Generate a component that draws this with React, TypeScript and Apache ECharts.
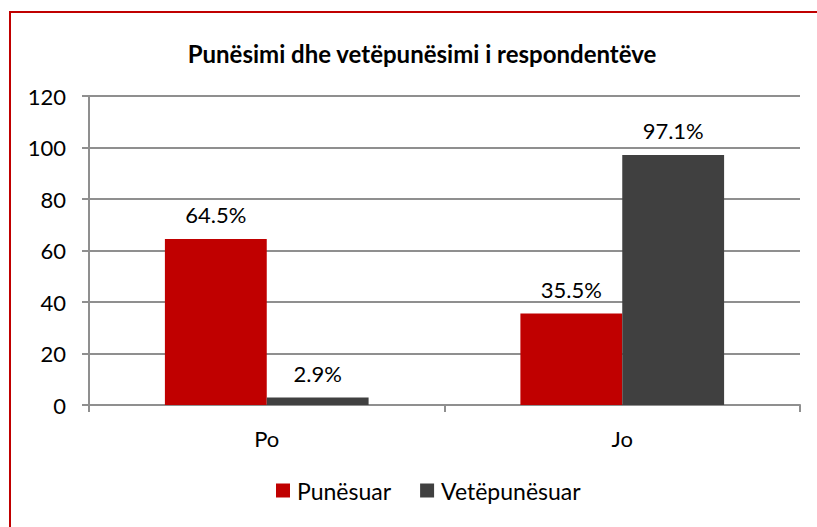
import React, { useEffect, useRef } from "react";
import * as echarts from "echarts";

const categories = ["Po", "Jo"];
const punesuar = [64.5, 35.5];
const vetepunesuar = [2.9, 97.1];
const seriesNames = ["Punësuar", "Vetëpunësuar"];
const title = "Punësimi dhe vetëpunësimi i respondentëve";

export default function App() {
  const ref = useRef<HTMLDivElement>(null);
  useEffect(() => {
    if (!ref.current) return;
    const chart = echarts.init(ref.current, undefined, { renderer: "svg" });
    const font = "Lato, 'Open Sans', sans-serif";
    const labelCfg = {
      show: true,
      position: "top" as const,
      formatter: (p: any) => p.value.toFixed(1) + "%",
      fontFamily: font,
      fontSize: 22,
      color: "#000",
      distance: 13,
    };
    chart.setOption({
      animation: false,
      backgroundColor: "#fff",
      textStyle: { fontFamily: font },
      title: {
        text: title,
        left: 417,
        textAlign: "center",
        top: 36,
        textStyle: { fontFamily: font, fontSize: 24, fontWeight: "bold", color: "#000" },
      },
      graphic: [
        {
          type: "rect",
          shape: { x: 10, y: 12, width: 900, height: 700 },
          style: { fill: "none", stroke: "#C00000", lineWidth: 2 },
        },
      ],
      grid: { left: 89, top: 96, right: 17, bottom: 122 },
      legend: {
        data: seriesNames,
        bottom: 20,
        left: 271,
        itemWidth: 14,
        itemHeight: 14,
        itemGap: 29,
        icon: "rect",
        textStyle: { fontFamily: font, fontSize: 23, color: "#000", padding: [0, 0, 0, 2] },
      },
      xAxis: {
        type: "category",
        data: categories,
        axisLine: { lineStyle: { color: "#8F8F8F", width: 2 } },
        axisTick: { show: true, length: 7, lineStyle: { color: "#8F8F8F", width: 2 } },
        axisLabel: { fontFamily: font, fontSize: 22, color: "#000", margin: 22 },
      },
      yAxis: {
        type: "value",
        min: 0,
        max: 120,
        interval: 20,
        axisLine: { show: true, lineStyle: { color: "#8F8F8F", width: 2 } },
        axisTick: { show: true, length: 7, lineStyle: { color: "#8F8F8F", width: 2 } },
        splitLine: { show: true, lineStyle: { color: "#8F8F8F", width: 2 } },
        axisLabel: { fontFamily: font, fontSize: 22, color: "#000", margin: 23 },
      },
      series: [
        {
          name: seriesNames[0],
          type: "bar",
          data: punesuar,
          itemStyle: { color: "#C00000" },
          barGap: "0%",
          barCategoryGap: "42.7%",
          label: labelCfg,
        },
        {
          name: seriesNames[1],
          type: "bar",
          data: vetepunesuar,
          itemStyle: { color: "#404040" },
          barGap: "0%",
          barCategoryGap: "42.7%",
          label: labelCfg,
        },
      ],
    });
    return () => chart.dispose();
  }, []);
  return (
    <div
      ref={ref}
      style={{ position: "fixed", left: 0, top: 0, width: 817, height: 527 }}
    />
  );
}
